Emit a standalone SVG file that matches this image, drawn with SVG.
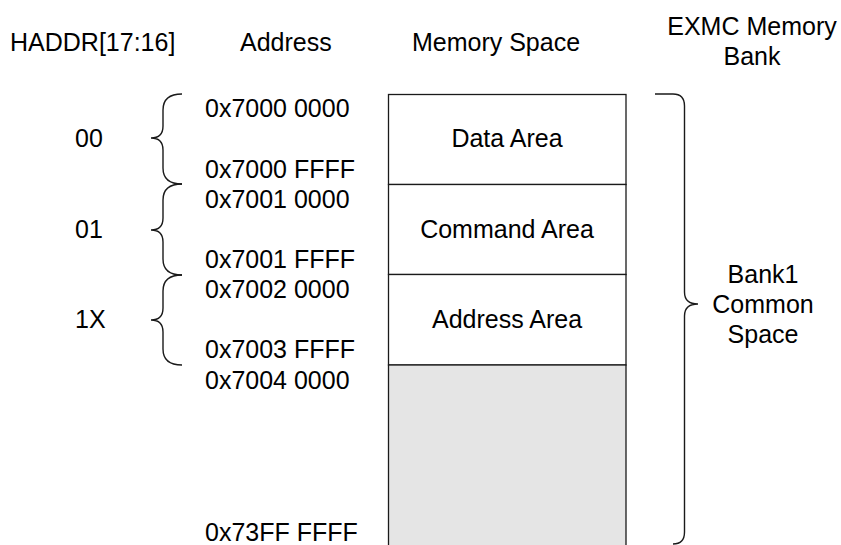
<svg xmlns="http://www.w3.org/2000/svg" width="841" height="545" viewBox="0 0 841 545">
<style>
text{font-family:"Liberation Sans",Arial,sans-serif;font-size:25px;fill:#000}
.c{text-anchor:middle}
.area{fill:#fff;stroke:#1a1a1a;stroke-width:1.3}
.gray{fill:#e5e5e5;stroke:#1a1a1a;stroke-width:1.3}
.brace{fill:none;stroke:#1a1a1a;stroke-width:1.4}
</style>
<rect width="841" height="545" fill="#fff"/>
<g id="headers">
<text x="10" y="51">HADDR[17:16]</text>
<text x="240" y="51">Address</text>
<text x="496" y="51" class="c">Memory Space</text>
<text x="752" y="35" class="c">EXMC Memory</text>
<text x="752" y="65" class="c">Bank</text>
</g>
<g id="addresses">
<text x="205" y="117">0x7000 0000</text>
<text x="205" y="178">0x7000 FFFF</text>
<text x="205" y="208">0x7001 0000</text>
<text x="205" y="268">0x7001 FFFF</text>
<text x="205" y="298">0x7002 0000</text>
<text x="205" y="358">0x7003 FFFF</text>
<text x="205" y="389">0x7004 0000</text>
<text x="205" y="541">0x73FF FFFF</text>
</g>
<g id="haddr">
<text x="75" y="147">00</text>
<text x="75" y="238">01</text>
<text x="75" y="328">1X</text>
</g>
<g id="data-area">
<rect class="area" x="388.5" y="94.5" width="237.5" height="90"/>
<text x="507" y="147" class="c">Data Area</text>
</g>
<g id="command-area">
<rect class="area" x="388.5" y="184.5" width="237.5" height="90"/>
<text x="507" y="238" class="c">Command Area</text>
</g>
<g id="address-area">
<rect class="area" x="388.5" y="274.5" width="237.5" height="90.5"/>
<text x="507" y="328" class="c">Address Area</text>
</g>
<g id="reserved">
<rect class="gray" x="388.5" y="365" width="237.5" height="200"/>
</g>
<g id="bank1">
<text x="763" y="283" class="c">Bank1</text>
<text x="763" y="313" class="c">Common</text>
<text x="763" y="343" class="c">Space</text>
</g>
<g id="connectors">
<path class="brace" d="M182,94 Q163,94 163,110 L163,126 Q163,138 151,138 Q163,138 163,150 L163,168 Q163,184 182,184"/>
<path class="brace" d="M182,184 Q163,184 163,200 L163,218 Q163,230 151,230 Q163,230 163,242 L163,259 Q163,275 182,275"/>
<path class="brace" d="M182,275 Q163,275 163,291 L163,308 Q163,320 151,320 Q163,320 163,332 L163,349 Q163,365 182,365"/>
<path class="brace" d="M655,94 L673,94 Q684.5,94 684.5,106 L684.5,292 Q684.5,304 698,304 Q684.5,304 684.5,316 L684.5,532 Q684.5,544 673,544"/>
</g>
</svg>
